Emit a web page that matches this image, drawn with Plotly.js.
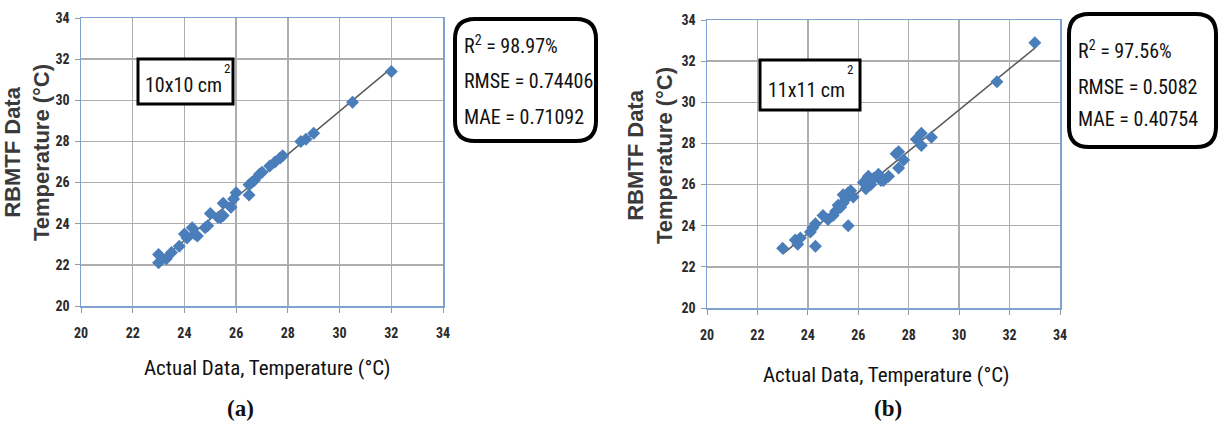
<!DOCTYPE html>
<html>
<head>
<meta charset="utf-8">
<script src="https://cdn.plot.ly/plotly-3.0.1.min.js"></script>
<style>html,body{margin:0;padding:0;background:#fff;}#chart{width:1219px;height:431px;}</style>
</head>
<body>
<div id="chart"></div>
<script>
// ---- data ----
const tickValues = [20, 22, 24, 26, 28, 30, 32, 34];
const tickLabels = ['20', '22', '24', '26', '28', '30', '32', '34'];

// (a) 10x10 cm2
const actualA = [23.0, 23.0, 23.3, 23.5, 23.8, 24.0, 24.1, 24.3, 24.5, 24.4, 24.8, 24.9, 25.0, 25.3, 25.4, 25.5, 25.5, 25.8, 25.9, 26.0, 26.5, 26.5, 26.6, 26.7, 26.9, 27.0, 27.3, 27.5, 27.7, 27.8, 28.5, 28.7, 29.0, 30.5, 32.0];
const rbmtfA  = [22.5, 22.1, 22.3, 22.6, 22.9, 23.5, 23.3, 23.8, 23.4, 23.5, 23.8, 23.9, 24.5, 24.3, 24.3, 25.0, 24.4, 24.8, 25.2, 25.5, 25.4, 25.9, 26.0, 26.1, 26.4, 26.5, 26.8, 27.0, 27.2, 27.3, 28.0, 28.1, 28.4, 29.9, 31.4];

// (b) 11x11 cm2
const actualB = [23.0, 23.5, 23.6, 23.7, 24.1, 24.2, 24.3, 24.3, 24.6, 24.8, 25.0, 25.1, 25.2, 25.3, 25.4, 25.4, 25.5, 25.6, 25.6, 25.7, 25.8, 26.2, 26.3, 26.4, 26.5, 26.6, 26.8, 26.9, 27.0, 27.2, 27.5, 27.6, 27.6, 27.8, 28.3, 28.5, 28.5, 28.9, 31.5, 33.0];
const rbmtfB  = [22.9, 23.3, 23.1, 23.4, 23.7, 23.9, 24.1, 23.0, 24.5, 24.3, 24.5, 24.7, 25.0, 24.9, 25.1, 25.5, 25.3, 24.0, 25.6, 25.7, 25.4, 26.1, 25.8, 26.4, 26.0, 26.3, 26.5, 26.2, 26.2, 26.4, 27.5, 27.6, 26.8, 27.2, 28.2, 28.5, 27.9, 28.3, 31.0, 32.9];

const labelA = '10x10 cm';
const labelB = '11x11 cm';
const statsA = ['R<sup>2</sup> = 98.97%', 'RMSE = 0.74406', 'MAE = 0.71092'];
const statsB = ['R<sup>2</sup> = 97.56%', 'RMSE = 0.5082', 'MAE = 0.40754'];
const xTitle = 'Actual Data, Temperature (°C)';
const yTitle = 'RBMTF Data<br>Temperature (°C)';

// ---- helpers ----
const W = 1219, H = 431;
const px = v => v / W;
const py = v => 1 - v / H;

function fit(xs, ys) {
  const n = xs.length;
  const mx = xs.reduce((a, b) => a + b, 0) / n;
  const my = ys.reduce((a, b) => a + b, 0) / n;
  let sxy = 0, sxx = 0;
  for (let i = 0; i < n; i++) { sxy += (xs[i] - mx) * (ys[i] - my); sxx += (xs[i] - mx) ** 2; }
  const b = sxy / sxx, a = my - b * mx;
  const x0 = Math.min(...xs), x1 = Math.max(...xs);
  return { x: [x0, x1], y: [a + b * x0, a + b * x1] };
}

function roundRect(x0, y0, x1, y1, r) {
  const P = (x, y) => px(x).toFixed(5) + ',' + py(y).toFixed(5);
  return 'M' + P(x0 + r, y0) + ' L' + P(x1 - r, y0) + ' Q' + P(x1, y0) + ' ' + P(x1, y0 + r) +
         ' L' + P(x1, y1 - r) + ' Q' + P(x1, y1) + ' ' + P(x1 - r, y1) +
         ' L' + P(x0 + r, y1) + ' Q' + P(x0, y1) + ' ' + P(x0, y1 - r) +
         ' L' + P(x0, y0 + r) + ' Q' + P(x0, y0) + ' ' + P(x0 + r, y0) + ' Z';
}

const narrow = '"Roboto Condensed", "Liberation Sans Narrow", "Liberation Sans", sans-serif';
const marker = { symbol: 'diamond', size: 10, color: '#4a7ebb' };
const trendLine = { color: '#5a5a5a', width: 1.5 };

const fa = fit(actualA, rbmtfA);
const fb = fit(actualB, rbmtfB);

const traces = [
  { x: fa.x, y: fa.y, mode: 'lines', line: trendLine, xaxis: 'x', yaxis: 'y', hoverinfo: 'skip' },
  { x: actualA, y: rbmtfA, mode: 'markers', marker: marker, xaxis: 'x', yaxis: 'y' },
  { x: fb.x, y: fb.y, mode: 'lines', line: trendLine, xaxis: 'x2', yaxis: 'y2', hoverinfo: 'skip' },
  { x: actualB, y: rbmtfB, mode: 'markers', marker: marker, xaxis: 'x2', yaxis: 'y2' }
];

function axis(extra) {
  return Object.assign({
    range: [20, 34], tickmode: 'array', tickvals: tickValues, ticktext: tickLabels,
    showgrid: true, gridcolor: '#adadad', gridwidth: 1.5,
    showline: true, linecolor: '#7fa2d0', linewidth: 1.5, mirror: true,
    ticks: 'outside', ticklen: 5, tickcolor: '#9a9a9a', tickwidth: 1,
    tickfont: { family: narrow, size: 14, color: '#2a2a2a', weight: 'bold' },
    zeroline: false, fixedrange: true
  }, extra);
}

const layout = {
  width: W, height: H,
  margin: { l: 0, r: 0, t: 0, b: 0 },
  paper_bgcolor: '#fff', plot_bgcolor: '#fff',
  showlegend: false,
  xaxis: axis({ domain: [px(81), px(443)], anchor: 'y', ticklabelstandoff: 9 }),
  yaxis: axis({ domain: [py(306), py(18)], anchor: 'x', ticklabelstandoff: 2 }),
  xaxis2: axis({ domain: [px(707), px(1060)], anchor: 'y2', ticklabelstandoff: 9 }),
  yaxis2: axis({ domain: [py(308), py(20)], anchor: 'x2', ticklabelstandoff: 2 }),
  shapes: [
    { type: 'rect', xref: 'paper', yref: 'paper', x0: px(138), x1: px(233), y0: py(104), y1: py(59),
      line: { color: '#000', width: 3 }, fillcolor: '#fff', layer: 'above' },
    { type: 'rect', xref: 'paper', yref: 'paper', x0: px(760), x1: px(860), y0: py(110), y1: py(60),
      line: { color: '#000', width: 3 }, fillcolor: '#fff', layer: 'above' },
    { type: 'path', xref: 'paper', yref: 'paper', path: roundRect(455, 19, 596, 141, 20),
      line: { color: '#000', width: 4 }, fillcolor: '#fff', layer: 'above' },
    { type: 'path', xref: 'paper', yref: 'paper', path: roundRect(1069, 14, 1216, 147, 20),
      line: { color: '#000', width: 4 }, fillcolor: '#fff', layer: 'above' }
  ],
  annotations: []
};

const A = layout.annotations;
function txt(text, x, y, size, opts) {
  A.push(Object.assign({
    text: text, xref: 'paper', yref: 'paper', x: px(x), y: py(y), showarrow: false,
    xanchor: 'center', yanchor: 'middle',
    font: { family: narrow, size: size, color: '#111' }
  }, opts || {}));
}

// box labels
txt(labelA, 143, 85, 20, { xanchor: 'left' });
txt('2', 227, 68, 13);
txt(labelB, 766, 90, 20, { xanchor: 'left' });
txt('2', 850, 69, 13);

// stats
[45, 81, 117].forEach((yy, i) => txt(statsA[i], 462, yy, 20, { xanchor: 'left' }));
[50, 87, 119].forEach((yy, i) => txt(statsB[i], 1076, yy, 20, { xanchor: 'left' }));

// axis titles
txt(xTitle, 267, 368, 21);
txt(xTitle, 886, 375, 21);
const yFont = { family: '"Liberation Sans", Arial, sans-serif', size: 22, color: '#3a3a3a', weight: 'bold' };
txt(yTitle, 27, 153, 22, { textangle: -90, font: yFont });
txt(yTitle, 650, 156, 22, { textangle: -90, font: yFont });

// panel labels
const pFont = { family: '"Liberation Serif", "Times New Roman", serif', size: 23, color: '#111', weight: 'bold' };
txt('(a)', 240, 408, 23, { font: pFont });
txt('(b)', 888, 408, 23, { font: pFont });

Plotly.newPlot('chart', traces, layout, { staticPlot: true, displayModeBar: false });
</script>
</body>
</html>
